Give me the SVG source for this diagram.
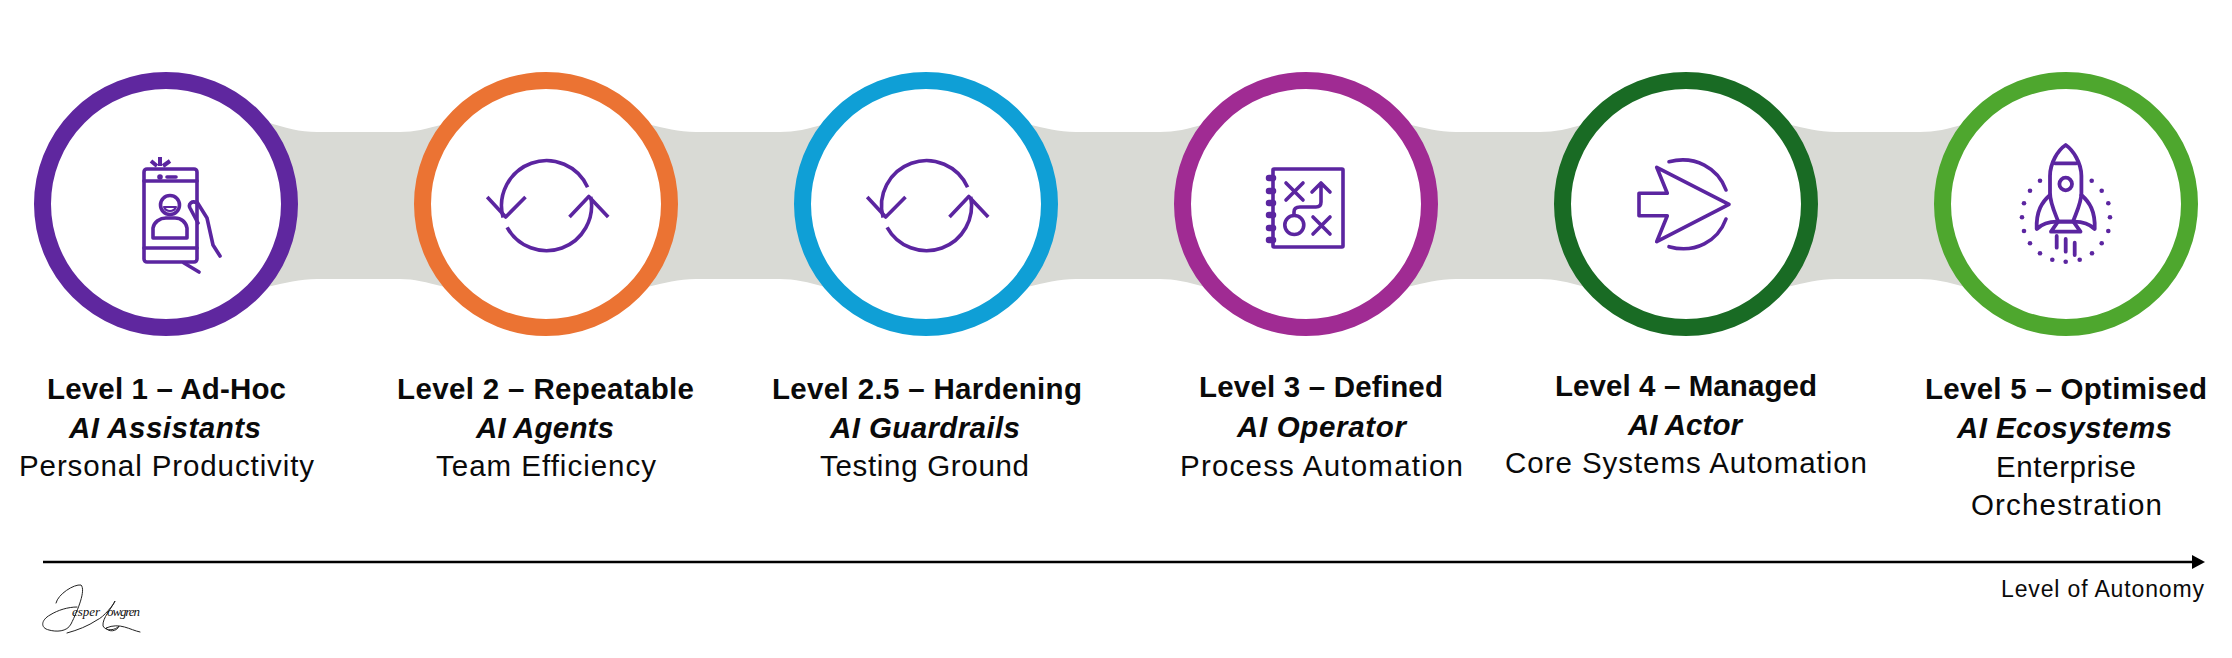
<svg xmlns="http://www.w3.org/2000/svg" width="2232" height="658" viewBox="0 0 2232 658">
<style>
text{font-family:"Liberation Sans",Arial,sans-serif;fill:#0a0a0a}
.t1{font-size:29.5px;font-weight:700}
.t2{font-size:29.5px;font-weight:700;font-style:italic}
.t3{font-size:29.5px}
.ring{fill:#fff;stroke-width:17}
.ic{fill:none;stroke:#5b25a0;stroke-width:3.6;stroke-linecap:round;stroke-linejoin:round}
.ifill{fill:#5b25a0}
.sig{fill:none;stroke:#222;stroke-width:1;stroke-linecap:round}
</style>
<defs>
<g id="cycle" class="ic"><path d="M41.1 -18.2A45 45 0 0 0 -43.4 12" stroke-linecap="butt"/><path d="M-39.4 21.8A45 45 0 0 0 44.2 -8.6" stroke-linecap="butt"/><path d="M-59.3 -8.5L-40.8 11.5L-21 -8.5" stroke-linecap="butt"/><path d="M23 11.5L42.3 -9L61.7 11.5" stroke-linecap="butt"/></g>
</defs>
<g id="band"><path fill="#d9dad5" d="M267 122C285 128 300 132 317 132H400C415 132 425 129 445 124H647C665 128 678 132 696 132H780C795 132 808 129 825 124H1027C1045 128 1058 132 1076 132H1160C1175 132 1188 129 1205 124H1407C1425 128 1438 132 1456 132H1540C1555 132 1568 129 1585 124H1787C1805 128 1818 132 1836 132H1920C1935 132 1948 129 1965 124V287C1948 282 1935 279 1920 279H1836C1818 279 1805 283 1787 287H1585C1568 282 1555 279 1540 279H1456C1438 279 1425 283 1407 287H1205C1188 282 1175 279 1160 279H1076C1058 279 1045 283 1027 287H825C808 282 795 279 780 279H696C678 279 665 283 647 287H445C425 282 415 279 400 279H317C300 279 285 283 267 287Z"/></g>
<g id="connectors"><path d="M43 562H2193" stroke="#000" stroke-width="2.6" fill="none"/><path d="M2192 555L2205 562L2192 569Z" fill="#000"/></g>

<g id="level1"><circle class="ring" cx="166" cy="204" r="123.5" stroke="#5f279f"/>
<g class="ic"><rect x="144" y="169" width="53" height="93" rx="3"/><path d="M144 181H197M144 248H197"/><circle cx="160" cy="177" r="2.8" class="ifill" stroke="none"/><path d="M167 177H176"/><circle cx="170" cy="205" r="9.5"/><path d="M164 207H176A6.5 6.5 0 0 1 164 207Z" stroke-width="2"/><path d="M153 238V228C154 222 160 218 166 218H175C181 218 186 222 187 228V238Z"/><path d="M197 203C192 200 188 204 190 208L198 223M197 202L207 218L213 245L220 256M184 263L199 272"/><path d="M160 157V166M151 161L157 166M170 161L163 166" stroke-width="4" stroke-linecap="butt"/></g></g>

<g id="level2"><circle class="ring" cx="546" cy="204" r="123.5" stroke="#eb7333"/><use href="#cycle" x="546.5" y="205.5"/></g>
<g id="level25"><circle class="ring" cx="926" cy="204" r="123.5" stroke="#0f9fd6"/><use href="#cycle" x="926.5" y="205.5"/></g>

<g id="level3"><circle class="ring" cx="1306" cy="204" r="123.5" stroke="#a02b93"/>
<g class="ic"><rect x="1273" y="169" width="70" height="78" rx="1"/><path d="M1273 178H1269M1273 191H1269M1273 203H1269M1273 215H1269M1273 228H1269M1273 240H1269" stroke-width="6.5"/><path d="M1286 183L1303 200M1303 183L1286 200M1313 217L1330 234M1330 217L1313 234"/><circle cx="1294.3" cy="225" r="9.5"/><path d="M1294 215V212Q1294 207 1300 207H1316Q1321 207 1321 202V183M1312 192L1321 183L1330 192"/></g></g>

<g id="level4"><circle class="ring" cx="1686" cy="204" r="123.5" stroke="#196b24"/>
<g class="ic"><path d="M1729 204.3L1656.7 167.3L1667.3 193.3H1639V215.7H1667.3L1656.7 241.7Z"/><path d="M1669 161.7C1695 155 1718 168 1726 190M1726 219C1718 241 1695 254 1669 246.7"/></g></g>

<g id="level5"><circle class="ring" cx="2066" cy="204" r="123.5" stroke="#4ea72e"/>
<g class="ic" style="stroke-width:3.8"><path d="M2065.7 145C2058 150 2050 163 2050 176V193C2050 203 2055 213 2058.3 221.7H2073C2076 213 2081.4 203 2081.4 193V176C2081.4 163 2073 150 2065.7 145Z"/><path d="M2055 163.3H2076.4"/><circle cx="2065.7" cy="184" r="6.3"/><path d="M2058 221.7H2073.4L2080.5 231.7H2051Z"/><path d="M2050 195C2042 202 2036 211 2036.7 229C2042 224 2050 221.5 2058 221.7M2081.4 195C2089.4 202 2095.4 211 2094.7 229C2089.4 224 2081.4 221.5 2073.4 221.7"/><path d="M2056.7 236V247.7M2065.7 239V251.7M2074.7 242.7V255"/></g>
<g class="ifill"><circle cx="2040" cy="180.7" r="2.3"/><circle cx="2091.7" cy="180.7" r="2.3"/><circle cx="2030" cy="190.7" r="2.3"/><circle cx="2101.7" cy="190.7" r="2.3"/><circle cx="2024" cy="203.3" r="2.3"/><circle cx="2108.3" cy="203.3" r="2.3"/><circle cx="2022" cy="217.3" r="2.3"/><circle cx="2110" cy="217.3" r="2.3"/><circle cx="2024" cy="231" r="2.3"/><circle cx="2108.3" cy="231" r="2.3"/><circle cx="2030" cy="243.3" r="2.3"/><circle cx="2101.7" cy="243.3" r="2.3"/><circle cx="2040" cy="253.3" r="2.3"/><circle cx="2092" cy="253.3" r="2.3"/><circle cx="2052.3" cy="259.7" r="2.3"/><circle cx="2079.7" cy="259.7" r="2.3"/><circle cx="2065.7" cy="261.7" r="2.3"/></g></g>

<g id="label1"><text class="t1" x="47" y="399" textLength="239">Level 1 – Ad-Hoc</text><text class="t2" x="69" y="438" textLength="192">AI Assistants</text><text class="t3" x="19" y="476" textLength="295">Personal Productivity</text></g>
<g id="label2"><text class="t1" x="397" y="399" textLength="297">Level 2 – Repeatable</text><text class="t2" x="476" y="438" textLength="138">AI Agents</text><text class="t3" x="436" y="476" textLength="220">Team Efficiency</text></g>
<g id="label25"><text class="t1" x="772" y="399" textLength="310">Level 2.5 – Hardening</text><text class="t2" x="830" y="438" textLength="190">AI Guardrails</text><text class="t3" x="820" y="476" textLength="209">Testing Ground</text></g>
<g id="label3"><text class="t1" x="1199" y="397" textLength="244">Level 3 – Defined</text><text class="t2" x="1237" y="437" textLength="169">AI Operator</text><text class="t3" x="1180" y="476" textLength="283">Process Automation</text></g>
<g id="label4"><text class="t1" x="1555" y="396" textLength="262">Level 4 – Managed</text><text class="t2" x="1628" y="435" textLength="114">AI Actor</text><text class="t3" x="1505" y="473" textLength="362">Core Systems Automation</text></g>
<g id="label5"><text class="t1" x="1925" y="399" textLength="282">Level 5 – Optimised</text><text class="t2" x="1957" y="438" textLength="215">AI Ecosystems</text><text class="t3" x="1996" y="477" textLength="140">Enterprise</text><text class="t3" x="1971" y="515" textLength="191">Orchestration</text></g>
<text id="axis-label" x="2001" y="597" font-size="23" textLength="203">Level of Autonomy</text>

<g id="signature"><path class="sig" d="M56 603C58 594 74 584 81 585C86 590 78 610 71 624C67 632 56 632 49 630C40 628 41 620 50 615C58 610 68 607 77 607M67 633C78 630 88 626 97 620C104 617 114 604 115 601C112 608 102 618 103 626C106 632 116 630 119 626C117 632 108 632 106 628C120 622 130 630 140 632"/>
<text x="72" y="616" font-size="13" style="font-family:'Liberation Serif',serif;font-style:italic;fill:#111" textLength="28">esper</text><text x="107" y="616" font-size="13" style="font-family:'Liberation Serif',serif;font-style:italic;fill:#111" textLength="33">owgren</text></g>
</svg>
